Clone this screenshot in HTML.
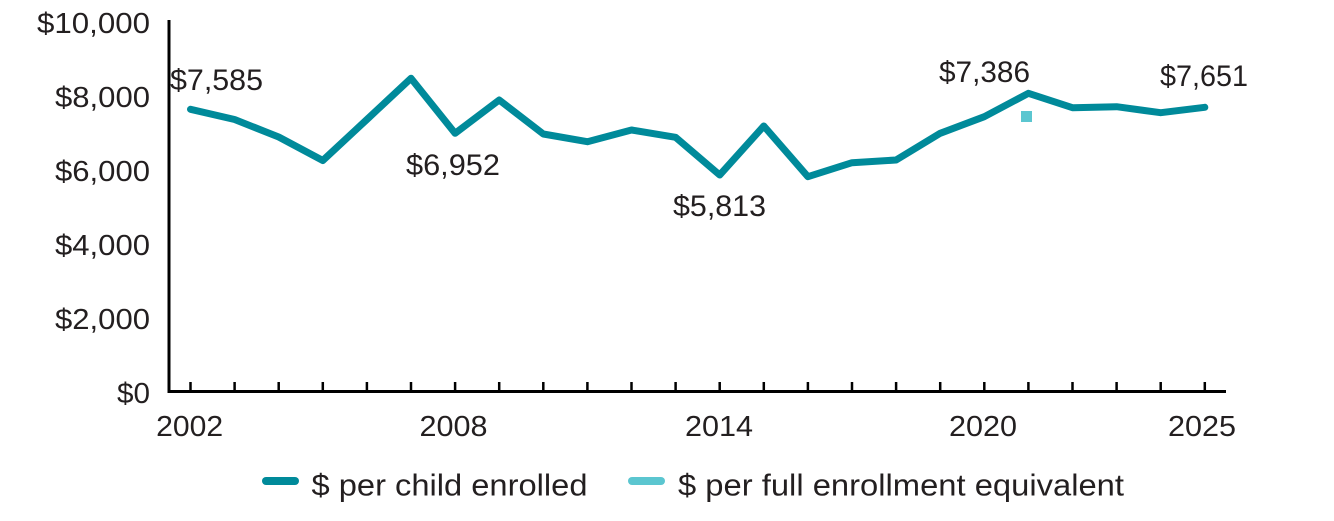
<!DOCTYPE html>
<html>
<head>
<meta charset="utf-8">
<style>
  html, body { margin: 0; padding: 0; background: #ffffff; }
  svg { display: block; }
  text { font-family: "Liberation Sans", sans-serif; fill: #231f20; }
</style>
</head>
<body>
<svg width="1334" height="521" viewBox="0 0 1334 521" xmlns="http://www.w3.org/2000/svg">
  <rect x="0" y="0" width="1334" height="521" fill="#ffffff"/>

  <!-- Y axis labels -->
  <g font-size="29" text-anchor="end">
    <text x="150" y="33" textLength="113" lengthAdjust="spacingAndGlyphs">$10,000</text>
    <text x="150" y="107" textLength="95" lengthAdjust="spacingAndGlyphs">$8,000</text>
    <text x="150" y="181" textLength="95" lengthAdjust="spacingAndGlyphs">$6,000</text>
    <text x="150" y="255" textLength="95" lengthAdjust="spacingAndGlyphs">$4,000</text>
    <text x="150" y="329" textLength="95" lengthAdjust="spacingAndGlyphs">$2,000</text>
    <text x="150" y="403" textLength="33" lengthAdjust="spacingAndGlyphs">$0</text>
  </g>

  <!-- Axes -->
  <line x1="169" y1="20" x2="169" y2="393" stroke="#000" stroke-width="3"/>
  <line x1="167.5" y1="391.5" x2="1226" y2="391.5" stroke="#000" stroke-width="3"/>

  <!-- Ticks -->
  <g stroke="#000" stroke-width="2.5">
    <line x1="190.5" y1="382" x2="190.5" y2="391"/>
    <line x1="234.6" y1="382" x2="234.6" y2="391"/>
    <line x1="278.7" y1="382" x2="278.7" y2="391"/>
    <line x1="322.8" y1="382" x2="322.8" y2="391"/>
    <line x1="366.9" y1="382" x2="366.9" y2="391"/>
    <line x1="411.0" y1="382" x2="411.0" y2="391"/>
    <line x1="455.1" y1="382" x2="455.1" y2="391"/>
    <line x1="499.2" y1="382" x2="499.2" y2="391"/>
    <line x1="543.3" y1="382" x2="543.3" y2="391"/>
    <line x1="587.4" y1="382" x2="587.4" y2="391"/>
    <line x1="631.5" y1="382" x2="631.5" y2="391"/>
    <line x1="675.6" y1="382" x2="675.6" y2="391"/>
    <line x1="719.7" y1="382" x2="719.7" y2="391"/>
    <line x1="763.8" y1="382" x2="763.8" y2="391"/>
    <line x1="807.9" y1="382" x2="807.9" y2="391"/>
    <line x1="852.0" y1="382" x2="852.0" y2="391"/>
    <line x1="896.1" y1="382" x2="896.1" y2="391"/>
    <line x1="940.2" y1="382" x2="940.2" y2="391"/>
    <line x1="984.3" y1="382" x2="984.3" y2="391"/>
    <line x1="1028.4" y1="382" x2="1028.4" y2="391"/>
    <line x1="1072.5" y1="382" x2="1072.5" y2="391"/>
    <line x1="1116.6" y1="382" x2="1116.6" y2="391"/>
    <line x1="1160.7" y1="382" x2="1160.7" y2="391"/>
    <line x1="1204.8" y1="382" x2="1204.8" y2="391"/>
  </g>

  <!-- X labels -->
  <g font-size="29" text-anchor="middle">
    <text x="189.7" y="436" textLength="67" lengthAdjust="spacingAndGlyphs">2002</text>
    <text x="453.5" y="436" textLength="68" lengthAdjust="spacingAndGlyphs">2008</text>
    <text x="719" y="436" textLength="68" lengthAdjust="spacingAndGlyphs">2014</text>
    <text x="983" y="436" textLength="68" lengthAdjust="spacingAndGlyphs">2020</text>
    <text x="1202" y="436" textLength="68" lengthAdjust="spacingAndGlyphs">2025</text>
  </g>

  <!-- Main series -->
  <polyline fill="none" stroke="#008a9a" stroke-width="7" stroke-linecap="round" stroke-linejoin="round"
    points="190.5,109.3 234.6,119.5 278.7,137 322.8,160.5 366.9,119.5 411,78.3 455.1,133.3 499.2,100 543.3,134 587.4,141.7 631.5,130 675.6,137.3 719.7,175 763.8,126 807.9,176.7 852,162.7 896.1,160 940.2,133.3 984.3,116.7 1028.4,93.3 1072.5,107.7 1116.6,106.7 1160.7,112.7 1204.8,107.3"/>

  <!-- Full enrollment equivalent marker -->
  <rect x="1021" y="111" width="11" height="11" fill="#5bc6d0"/>

  <!-- Annotations -->
  <g font-size="30">
    <text x="170" y="90" textLength="93" lengthAdjust="spacingAndGlyphs">$7,585</text>
    <text x="406" y="175" textLength="94" lengthAdjust="spacingAndGlyphs">$6,952</text>
    <text x="673" y="216" textLength="93" lengthAdjust="spacingAndGlyphs">$5,813</text>
    <text x="939" y="82" textLength="91" lengthAdjust="spacingAndGlyphs">$7,386</text>
    <text x="1160" y="86" textLength="88" lengthAdjust="spacingAndGlyphs">$7,651</text>
  </g>

  <!-- Legend -->
  <line x1="266" y1="481" x2="295" y2="481" stroke="#008a9a" stroke-width="8" stroke-linecap="round"/>
  <text x="311.5" y="495.5" font-size="31" textLength="276" lengthAdjust="spacingAndGlyphs">$ per child enrolled</text>
  <line x1="632" y1="481" x2="661" y2="481" stroke="#5bc6d0" stroke-width="8" stroke-linecap="round"/>
  <text x="678" y="495.5" font-size="31" textLength="446" lengthAdjust="spacingAndGlyphs">$ per full enrollment equivalent</text>
</svg>
</body>
</html>
